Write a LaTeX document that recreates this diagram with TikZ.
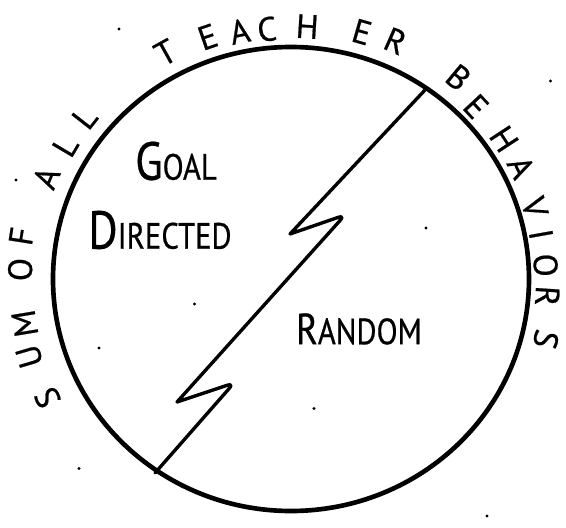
\documentclass[tikz,border=0pt]{standalone}
\usepackage{fontspec}
\setmainfont{PT Sans}
\newfontfamily\handfont[FakeBold=0.6]{PT Sans}
\usetikzlibrary{positioning}

\newcommand{\rimfont}{\handfont\fontsize{24}{24}\selectfont}
\newcommand{\wordfont}{\handfont\fontsize{26}{26}\selectfont}
\newcommand{\capl}[1]{{\fontsize{38}{38}\selectfont #1}}

\begin{document}
\begin{tikzpicture}[
    x=0.025cm, y=0.025cm,
    rim/.style={font=\rimfont, inner sep=0pt},
    word/.style={font=\wordfont, inner sep=0pt, xscale=0.84},
    bolt/.style={line width=2.4pt, line join=round, line cap=round},
    speck/.style={fill=black},
]
\useasboundingbox (-291,-248) rectangle (275,279);

% the whole set of behaviours
\draw[line width=3.3pt] (0,0) circle [x radius=238, y radius=232];

% split between the two kinds
\coordinate (top) at (134,189);
\coordinate (tip1) at (-1,45);
\coordinate (turn1) at (54,64);
\coordinate (tip2) at (-114,-123);
\coordinate (turn2) at (-57,-104);
\coordinate (bot) at (-136,-194);
\draw[bolt] (top) -- (tip1) [rounded corners=5pt] -- (turn1) [sharp corners] -- (tip2)
    [rounded corners=5pt] -- (turn2) [sharp corners] -- (bot);

\node[word] (goal) at (-115,118) {\capl{G}OAL};
\node[word] (directed) at (-131,49) {\capl{D}IRECTED};
\node[word] (random) at (68,-50) {{\fontsize{31}{31}\selectfont R}ANDOM};

% lettering round the rim
\node[rim, rotate=116] (r1) at (206:271) {S};
\node[rim, rotate=106.5] (r2) at (196.5:273) {U};
\node[rim, rotate=99.5] (r3) at (189.5:270) {M};
\node[rim, rotate=88] (r4) at (178:271) {O};
\node[rim, rotate=81] (r5) at (171:273) {F};
\node[rim, rotate=67.5] (r6) at (157.5:265) {A};
\node[rim, rotate=59.5] (r7) at (149.5:262) {L};
\node[rim, rotate=52] (r8) at (142:262) {L};
\node[rim, rotate=29] (r9) at (119:259) {T};
\node[rim, rotate=19] (r10) at (109:256) {E};
\node[rim, rotate=11.7] (r11) at (101.7:253) {A};
\node[rim, rotate=5.5] (r12) at (95.5:251) {C};
\node[rim, rotate=-3.7] (r13) at (86.3:253) {H};
\node[rim, rotate=-16] (r14) at (74:257) {E};
\node[rim, rotate=-23.7] (r15) at (66.3:260) {R};
\node[rim, rotate=-39.7] (r16) at (50.3:262) {B};
\node[rim, rotate=-47] (r17) at (43:253) {E};
\node[rim, rotate=-56.7] (r18) at (33.3:255) {H};
\node[rim, rotate=-64.1] (r19) at (25.9:256) {A};
\node[rim, rotate=-73.6] (r20) at (16.4:254) {V};
\node[rim, rotate=-79.9] (r21) at (10.1:254) {I};
\node[rim, rotate=-86.9] (r22) at (3.1:255) {O};
\node[rim, rotate=-93.8] (r23) at (-3.8:257) {R};
\node[rim, rotate=-103.3] (r24) at (-13.3:262) {S};

% specks
\fill[speck] (-172,250) circle [radius=1.6];
\fill[speck] (259.5,198) circle [radius=1.6];
\fill[speck] (-275,99) circle [radius=1.6];
\fill[speck] (135,51) circle [radius=1.6];
\fill[speck] (-96.5,-25) circle [radius=1.6];
\fill[speck] (-192,-69) circle [radius=1.6];
\fill[speck] (23,-129.5) circle [radius=1.6];
\fill[speck] (-212,-189.5) circle [radius=1.6];
\fill[speck] (196,-237) circle [radius=1.6];

\end{tikzpicture}
\end{document}
